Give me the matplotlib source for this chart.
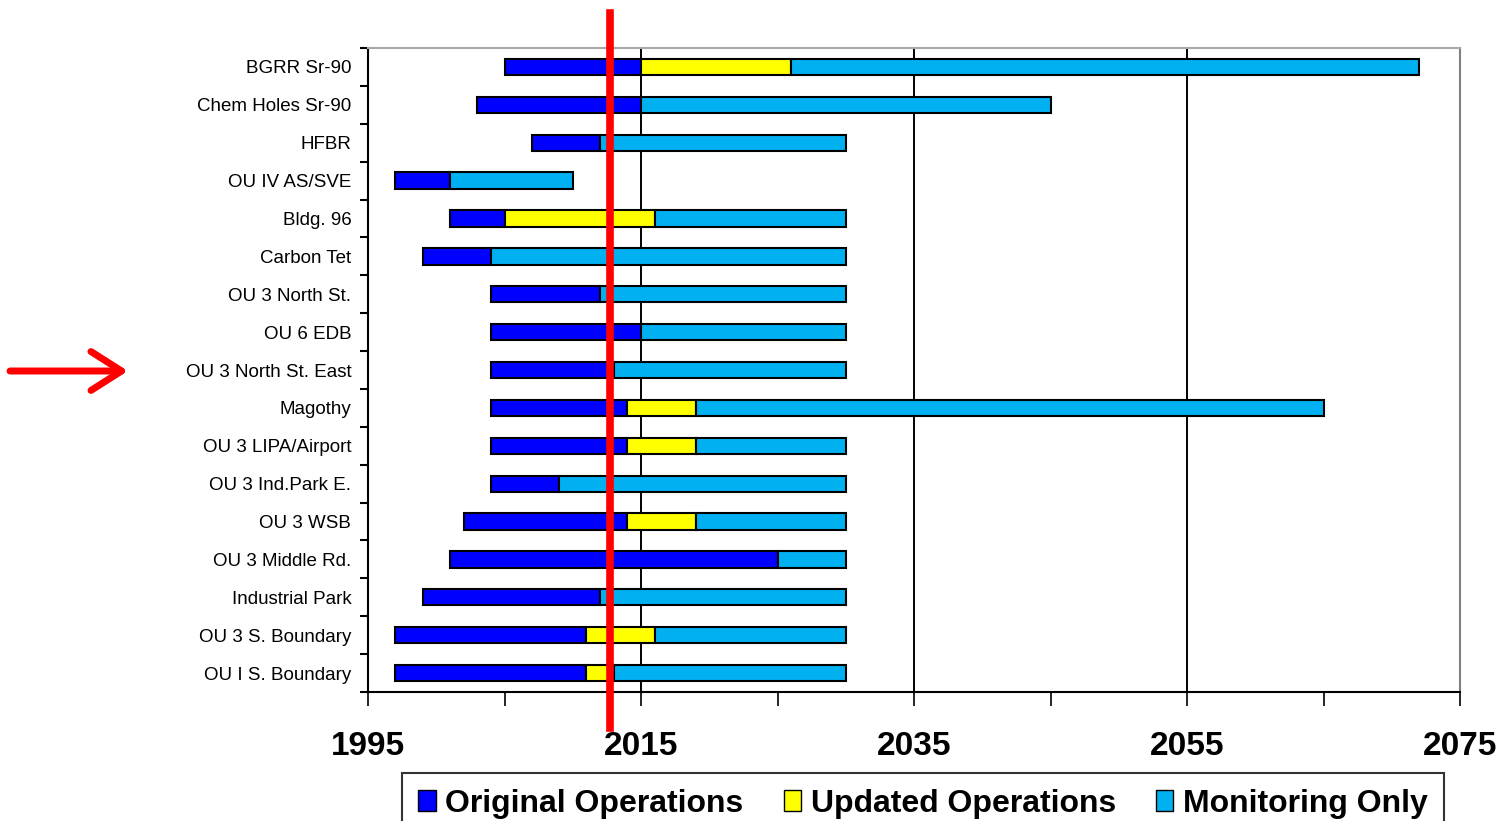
import matplotlib.pyplot as plt
from matplotlib.patches import Patch, FancyArrowPatch

plt.rcParams["font.family"] = ["Liberation Sans", "DejaVu Sans"]

sites = ["BGRR Sr-90", "Chem Holes Sr-90", "HFBR", "OU IV AS/SVE", "Bldg. 96",
	"Carbon Tet", "OU 3 North St.", "OU 6 EDB", "OU 3 North St. East", "Magothy",
	"OU 3 LIPA/Airport", "OU 3 Ind.Park E.", "OU 3 WSB", "OU 3 Middle Rd.",
	"Industrial Park", "OU 3 S. Boundary", "OU I S. Boundary"]
orig_start = [2005, 2003, 2007, 1997, 2001, 1999, 2004, 2004, 2004, 2004,
	2004, 2004, 2002, 2001, 1999, 1997, 1997]
orig_end = [2015, 2015, 2012, 2001, 2005, 2004, 2012, 2015, 2013, 2014,
	2014, 2009, 2014, 2025, 2012, 2011, 2011]
upd_end = [2026, 2015, 2012, 2001, 2016, 2004, 2012, 2015, 2013, 2019,
	2019, 2009, 2019, 2025, 2012, 2016, 2013]
mon_end = [2072, 2045, 2030, 2010, 2030, 2030, 2030, 2030, 2030, 2065,
	2030, 2030, 2030, 2030, 2030, 2030, 2030]
now_year = 2012.7

c_orig = "#0000FF"
c_upd = "#FFFF00"
c_mon = "#00B0F0"

fig = plt.figure(figsize=(15.04, 8.21), dpi=100)
ax = fig.add_axes([0.2447, 0.1571, 0.7261, 0.7844])

y = list(range(len(sites)))
h = 0.43
for i in y:
	segs = [(orig_start[i], orig_end[i], c_orig),
		(orig_end[i], upd_end[i], c_upd),
		(upd_end[i], mon_end[i], c_mon)]
	for a, b, c in segs:
		if b > a:
			ax.barh(i, b - a, left=a, height=h, color=c, edgecolor="black",
				linewidth=1.5, zorder=3)

ax.set_xlim(1995, 2075)
ax.set_ylim(len(sites) - 0.5, -0.5)

ax.set_xticks(range(1995, 2076, 20))
ax.set_xticks(range(2005, 2076, 20), minor=True)
ax.tick_params(axis="x", which="both", direction="out", length=10, width=1.2, pad=18)
for lab in ax.get_xticklabels():
	lab.set_fontsize(24)
	lab.set_fontweight("bold")

ax.set_yticks(y)
ax.set_yticklabels(sites, fontsize=13.5)
ax.set_yticks([i + 0.5 for i in range(-1, len(sites))], minor=True)
ax.tick_params(axis="y", which="major", length=0, pad=12)
ax.tick_params(axis="y", which="minor", direction="out", length=6, width=1.5)

for yr in [2015, 2035, 2055]:
	ax.axvline(yr, color="black", linewidth=1.4, zorder=1)

ax.spines["left"].set_linewidth(1.5)
ax.spines["bottom"].set_linewidth(1.5)
ax.spines["top"].set_color("#A8A8A8")
ax.spines["top"].set_linewidth(1.5)
ax.spines["right"].set_color("#808080")
ax.spines["right"].set_linewidth(1.5)

# current year marker
ax.axvline(now_year, ymin=-0.056, ymax=1.055, color="#FF0000", linewidth=5.5,
	clip_on=False, zorder=5)

# arrow pointing at OU 3 North St. East
arr = FancyArrowPatch((10 / 1504, 1 - 371 / 821), (128 / 1504, 1 - 371 / 821),
	transform=fig.transFigure, arrowstyle="->,head_length=22,head_width=14",
	color="#FF0000", linewidth=5, capstyle="round", joinstyle="round",
	shrinkA=0, shrinkB=0)
fig.add_artist(arr)

handles = [Patch(facecolor=c_orig, edgecolor="black", label="Original Operations"),
	Patch(facecolor=c_upd, edgecolor="black", label="Updated Operations"),
	Patch(facecolor=c_mon, edgecolor="black", label="Monitoring Only")]
leg = fig.legend(handles=handles, loc="upper center", ncol=3,
	bbox_to_anchor=(923 / 1504, 1 - 773 / 821), borderaxespad=0,
	frameon=True, fancybox=False,
	handlelength=0.55, handleheight=0.65, handletextpad=0.3, columnspacing=1.25,
	borderpad=0.5, prop={"size": 23, "weight": "bold"})
leg.get_frame().set_edgecolor("black")
leg.get_frame().set_linewidth(1.5)

fig.savefig("out.png", dpi=100)
